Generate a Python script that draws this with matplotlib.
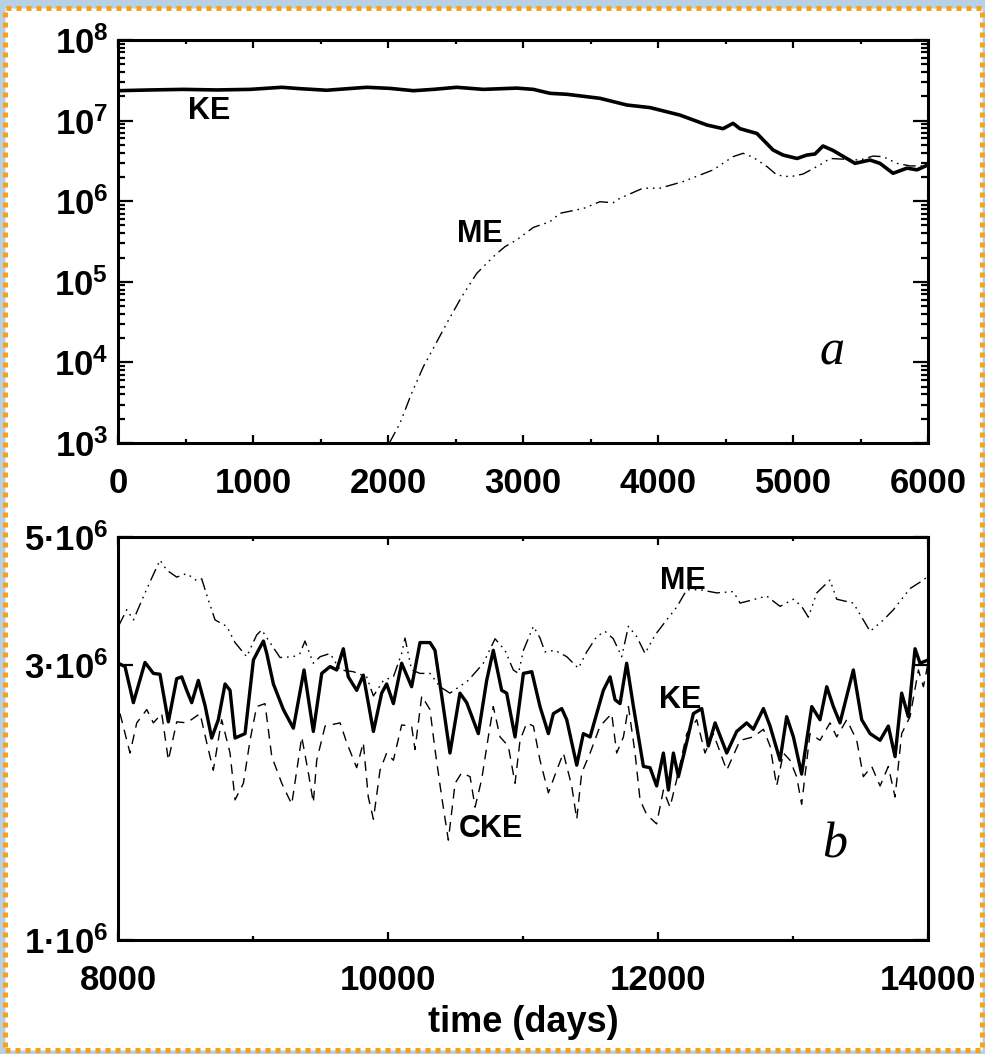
import numpy as np
import matplotlib.pyplot as plt
from matplotlib.patches import Rectangle
from matplotlib.ticker import FixedLocator, FixedFormatter, MultipleLocator, LogLocator, NullFormatter

plt.rcParams['font.family'] = ['Liberation Sans', 'DejaVu Sans']
plt.rcParams['font.weight'] = 'bold'
plt.rcParams['mathtext.fontset'] = 'custom'
plt.rcParams['mathtext.rm'] = 'Liberation Sans:bold'
plt.rcParams['mathtext.bf'] = 'Liberation Sans:bold'

# panel a : 0 - 6000 days
t_ke_a = [0, 237, 484, 731, 978, 1212, 1348, 1546, 1842, 2015, 2188, 2336, 2509, 2706,
          2953, 3077, 3200, 3326, 3570, 3770, 3941, 4163, 4363, 4482, 4556, 4607, 4733,
          4852, 4926, 5030, 5104, 5163, 5222, 5296, 5459, 5570, 5644, 5741, 5844, 5919, 6000]
ke_a = [2.35e7, 2.40e7, 2.44e7, 2.40e7, 2.44e7, 2.59e7, 2.49e7, 2.38e7, 2.59e7, 2.51e7,
        2.35e7, 2.44e7, 2.59e7, 2.44e7, 2.53e7, 2.44e7, 2.18e7, 2.12e7, 1.89e7, 1.56e7,
        1.45e7, 1.17e7, 8.81e6, 7.94e6, 9.25e6, 7.94e6, 6.92e6, 4.32e6, 3.74e6, 3.39e6,
        3.74e6, 3.85e6, 4.84e6, 4.27e6, 2.95e6, 3.24e6, 2.95e6, 2.22e6, 2.57e6, 2.45e6, 2.82e6]

t_me_a = [2010, 2089, 2175, 2262, 2336, 2435, 2546, 2657, 2793, 2867, 2953, 3077, 3200,
          3274, 3448, 3570, 3667, 3719, 3889, 4015, 4185, 4407, 4556, 4630, 4704, 4807,
          4881, 4978, 5074, 5200, 5274, 5496, 5593, 5667, 5770, 5867, 6000]
me_a = [1.0e3, 1.76e3, 4.14e3, 8.85e3, 1.50e4, 3.05e4, 6.53e4, 1.27e5, 2.15e5, 2.73e5,
        3.31e5, 4.73e5, 5.57e5, 7.08e5, 8.13e5, 9.86e5, 9.55e5, 1.09e6, 1.45e6, 1.45e6,
        1.75e6, 2.44e6, 3.57e6, 3.93e6, 3.51e6, 2.69e6, 2.11e6, 2.01e6, 2.17e6, 2.82e6,
        3.39e6, 3.24e6, 3.63e6, 3.57e6, 2.95e6, 2.74e6, 2.74e6]

# panel b : 8000 - 14000 days, values in units of 1e6
t_ke_b = [8003, 8052, 8114, 8200, 8262, 8311, 8373, 8435, 8472, 8509, 8546, 8595, 8645,
          8694, 8743, 8793, 8830, 8867, 8941, 9003, 9040, 9077, 9102, 9151, 9225, 9299,
          9378, 9447, 9509, 9571, 9620, 9669, 9706, 9768, 9817, 9892, 9953, 9990, 10040,
          10101, 10175, 10237, 10311, 10348, 10398, 10459, 10533, 10583, 10669, 10731,
          10780, 10842, 10879, 10941, 11003, 11065, 11126, 11188, 11225, 11287, 11324,
          11398, 11447, 11497, 11546, 11595, 11645, 11682, 11719, 11768, 11818, 11892,
          11941, 11990, 12040, 12077, 12114, 12151, 12200, 12262, 12324, 12373, 12423,
          12509, 12583, 12657, 12706, 12781, 12830, 12904, 12953, 13003, 13064, 13139,
          13200, 13250, 13299, 13348, 13447, 13509, 13571, 13645, 13706, 13756, 13805,
          13854, 13904, 13941, 14000]
ke_b = [3.02, 2.98, 2.58, 3.03, 2.90, 2.89, 2.39, 2.84, 2.86, 2.71, 2.58, 2.82, 2.55,
        2.24, 2.41, 2.78, 2.71, 2.24, 2.28, 3.06, 3.18, 3.30, 3.14, 2.78, 2.51, 2.33,
        2.94, 2.30, 2.90, 2.98, 2.94, 3.20, 2.86, 2.71, 2.88, 2.30, 2.68, 2.78, 2.57,
        3.02, 2.75, 3.28, 3.28, 3.18, 2.65, 2.11, 2.68, 2.58, 2.28, 2.82,
        3.18, 2.71, 2.68, 2.25, 2.90, 2.92, 2.54, 2.28, 2.47, 2.52, 2.41,
        2.01, 2.28, 2.25, 2.47, 2.71, 2.86, 2.61, 2.57, 3.02, 2.54, 2.00,
        1.99, 1.85, 2.11, 1.82, 2.11, 1.92, 2.14, 2.47, 2.52, 2.17, 2.38,
        2.11, 2.30, 2.38, 2.32, 2.52, 2.35, 2.05, 2.44, 2.25, 1.94, 2.54,
        2.41, 2.75, 2.54, 2.38, 2.94, 2.41, 2.28, 2.22, 2.35, 2.08, 2.68,
        2.44, 3.20, 3.02, 3.06]

t_me_b = [8003, 8065, 8114, 8188, 8237, 8311, 8361, 8435, 8509, 8583, 8620, 8669, 8719,
          8805, 8867, 8953, 9027, 9064, 9126, 9200, 9299, 9348, 9385, 9447, 9497, 9571,
          9645, 9743, 9842, 9892, 9966, 10040, 10101, 10126, 10175, 10237, 10311, 10385,
          10459, 10595, 10706, 10793, 10867, 10928, 10966, 11003, 11077, 11126, 11163,
          11237, 11324, 11410, 11472, 11546, 11608, 11669, 11731, 11781, 11842, 11904,
          11978, 12064, 12139, 12213, 12311, 12435, 12558, 12608, 12682, 12805, 12904,
          13003, 13064, 13114, 13176, 13274, 13324, 13447, 13521, 13571, 13670, 13744,
          13867, 13966, 14000]
me_b = [3.50, 3.74, 3.59, 3.94, 4.18, 4.56, 4.38, 4.26, 4.32, 4.20, 4.23, 3.89, 3.59,
        3.50, 3.28, 3.10, 3.38, 3.45, 3.28, 3.09, 3.10, 3.14, 3.30, 3.02, 3.10, 3.14,
        2.94, 2.92, 2.86, 2.65, 2.82, 2.86, 3.14, 3.34, 2.94, 2.90, 2.90, 2.75,
        2.68, 2.82, 3.02, 3.33, 3.18, 2.94, 2.90, 3.18, 3.50, 3.34, 3.16,
        3.18, 3.10, 2.96, 3.16, 3.36, 3.43, 3.33, 3.10, 3.50, 3.36, 3.14,
        3.38, 3.59, 3.78, 4.05, 4.05, 4.00, 4.02, 3.84, 3.88, 3.95, 3.79,
        3.90, 3.79, 3.63, 4.00, 4.21, 3.90, 3.84, 3.59, 3.43, 3.59, 3.74,
        4.07, 4.21, 4.28]

t_cke_b = [8015, 8089, 8139, 8213, 8262, 8324, 8373, 8435, 8509, 8608, 8657, 8706, 8768,
           8830, 8867, 8929, 8978, 9027, 9089, 9139, 9213, 9287, 9361, 9410, 9447, 9472,
           9534, 9645, 9694, 9768, 9817, 9854, 9892, 9941, 9990, 10040, 10101, 10175,
           10200, 10250, 10311, 10348, 10398, 10447, 10497, 10546, 10608, 10645, 10694,
           10743, 10780, 10830, 10891, 10941, 10978, 11028, 11077, 11126, 11188, 11250,
           11299, 11361, 11398, 11435, 11497, 11571, 11657, 11694, 11744, 11781, 11830,
           11867, 11916, 11990, 12040, 12089, 12139, 12213, 12287, 12348, 12410, 12509,
           12608, 12706, 12781, 12830, 12879, 12929, 12978, 13027, 13064, 13126, 13200,
           13274, 13324, 13398, 13472, 13521, 13583, 13645, 13706, 13756, 13805, 13867,
           13929, 13966, 14000]
cke_b = [2.47, 2.11, 2.38, 2.51, 2.38, 2.47, 2.05, 2.39, 2.38, 2.47, 2.20, 1.97, 2.41,
         2.11, 1.75, 1.87, 2.22, 2.54, 2.57, 2.08, 1.87, 1.72, 2.25, 1.95, 1.73, 2.05,
         2.35, 2.38, 2.20, 1.99, 2.20, 1.77, 1.62, 1.97, 2.11, 2.05, 2.36, 2.35,
         2.14, 2.65, 2.51, 2.14, 1.77, 1.49, 1.87, 1.95, 1.92, 1.70, 1.90,
         2.25, 2.54, 2.25, 2.17, 1.87, 2.22, 2.38, 2.35, 2.05, 1.80, 1.97,
         2.11, 1.85, 1.62, 1.95, 2.11, 2.35, 2.47, 2.11, 2.25, 2.54, 2.11,
         1.75, 1.65, 1.59, 1.82, 1.70, 1.90, 2.28, 2.41, 2.11, 2.28, 1.97,
         2.22, 2.25, 2.32, 2.17, 1.85, 2.11, 2.05, 1.92, 1.72, 2.28, 2.22,
         2.38, 2.25, 2.41, 2.22, 1.92, 2.00, 1.85, 2.00, 1.77, 2.28, 2.44,
         2.94, 2.75, 3.02]

yticks_b = [1e6, 3e6, 5e6]
ytick_labels_b = ['$\\mathbf{1\u00b710^{6}}$', '$\\mathbf{3\u00b710^{6}}$', '$\\mathbf{5\u00b710^{6}}$']

me_style = (0, (9, 3.5, 1.2, 3.5, 1.2, 3.5, 1.2, 3.5))
cke_style = (0, (7, 5))

fig = plt.figure(figsize=(9.85, 10.54), dpi=100, facecolor='#b8d0e3')
W, H = 985.0, 1054.0
fig.patches.append(Rectangle((4.5 / W, 4 / H), (981.5 - 4.5) / W, (1046.5 - 4) / H,
                             transform=fig.transFigure, facecolor='white',
                             edgecolor='#f7a11a', linewidth=3.6,
                             linestyle=(0, (1, 1)), zorder=-1))

ax1 = fig.add_axes([118 / W, 1 - 443 / H, 810 / W, 403 / H])
ax2 = fig.add_axes([118 / W, 1 - 940 / H, 810 / W, 403 / H])

for ax in (ax1, ax2):
    for s in ax.spines.values():
        s.set_linewidth(2.2)
    ax.tick_params(which='both', direction='in', top=True, right=True,
                   labelsize=25, width=1.6)
    ax.tick_params(axis='x', which='major', length=6, pad=17)
    ax.tick_params(axis='x', which='minor', length=3)
    ax.tick_params(axis='y', which='major', length=11, pad=7)
    ax.tick_params(axis='y', which='minor', length=5)
    ax.set_facecolor('none')

# panel a
ax1.plot(t_ke_a, ke_a, color='black', lw=2.6)
ax1.plot(t_me_a, me_a, color='black', lw=1.0, linestyle=me_style)
ax1.set_yscale('log')
ax1.set_xlim(0, 6000)
ax1.set_ylim(1e3, 1e8)
ax1.xaxis.set_major_locator(MultipleLocator(1000))
ax1.xaxis.set_minor_locator(MultipleLocator(500))
ax1.yaxis.set_minor_locator(LogLocator(base=10, subs=np.arange(2, 10), numticks=20))
ax1.yaxis.set_minor_formatter(NullFormatter())
ax1.set_yticks([1e3, 1e4, 1e5, 1e6, 1e7, 1e8])
ax1.set_yticklabels([r'$\mathbf{10^{%d}}$' % k for k in range(3, 9)])
ax1.text(678, 1.32e7, 'KE', fontsize=22, fontweight='bold', ha='center', va='center')
ax1.text(2681, 3.87e5, 'ME', fontsize=22, fontweight='bold', ha='center', va='center')
ax1.text(5289, 1.35e4, 'a', fontsize=36, family='Liberation Serif', style='italic',
         fontweight='normal', ha='center', va='center')

# panel b
ax2.plot(t_ke_b, np.array(ke_b) * 1e6, color='black', lw=2.4)
ax2.plot(t_me_b, np.array(me_b) * 1e6, color='black', lw=1.0, linestyle=me_style)
ax2.plot(t_cke_b, np.array(cke_b) * 1e6, color='black', lw=1.0, linestyle=cke_style)
ax2.set_yscale('log')
ax2.set_xlim(8000, 14000)
ax2.set_ylim(1e6, 5e6)
ax2.xaxis.set_major_locator(MultipleLocator(2000))
ax2.xaxis.set_minor_locator(MultipleLocator(1000))
ax2.yaxis.set_major_locator(FixedLocator(yticks_b))
ax2.yaxis.set_major_formatter(FixedFormatter(ytick_labels_b))
ax2.yaxis.set_minor_locator(FixedLocator([]))
ax2.set_xlabel('time (days)', fontsize=26, fontweight='bold', labelpad=6)
ax2.text(12181, 4.19e6, 'ME', fontsize=22, fontweight='bold', ha='center', va='center')
ax2.text(12167, 2.61e6, 'KE', fontsize=22, fontweight='bold', ha='center', va='center')
ax2.text(10763, 1.56e6, 'CKE', fontsize=22, fontweight='bold', ha='center', va='center')
ax2.text(13311, 1.46e6, 'b', fontsize=36, family='Liberation Serif', style='italic',
         fontweight='normal', ha='center', va='center')

fig.savefig('out.png', dpi=100, facecolor=fig.get_facecolor())
